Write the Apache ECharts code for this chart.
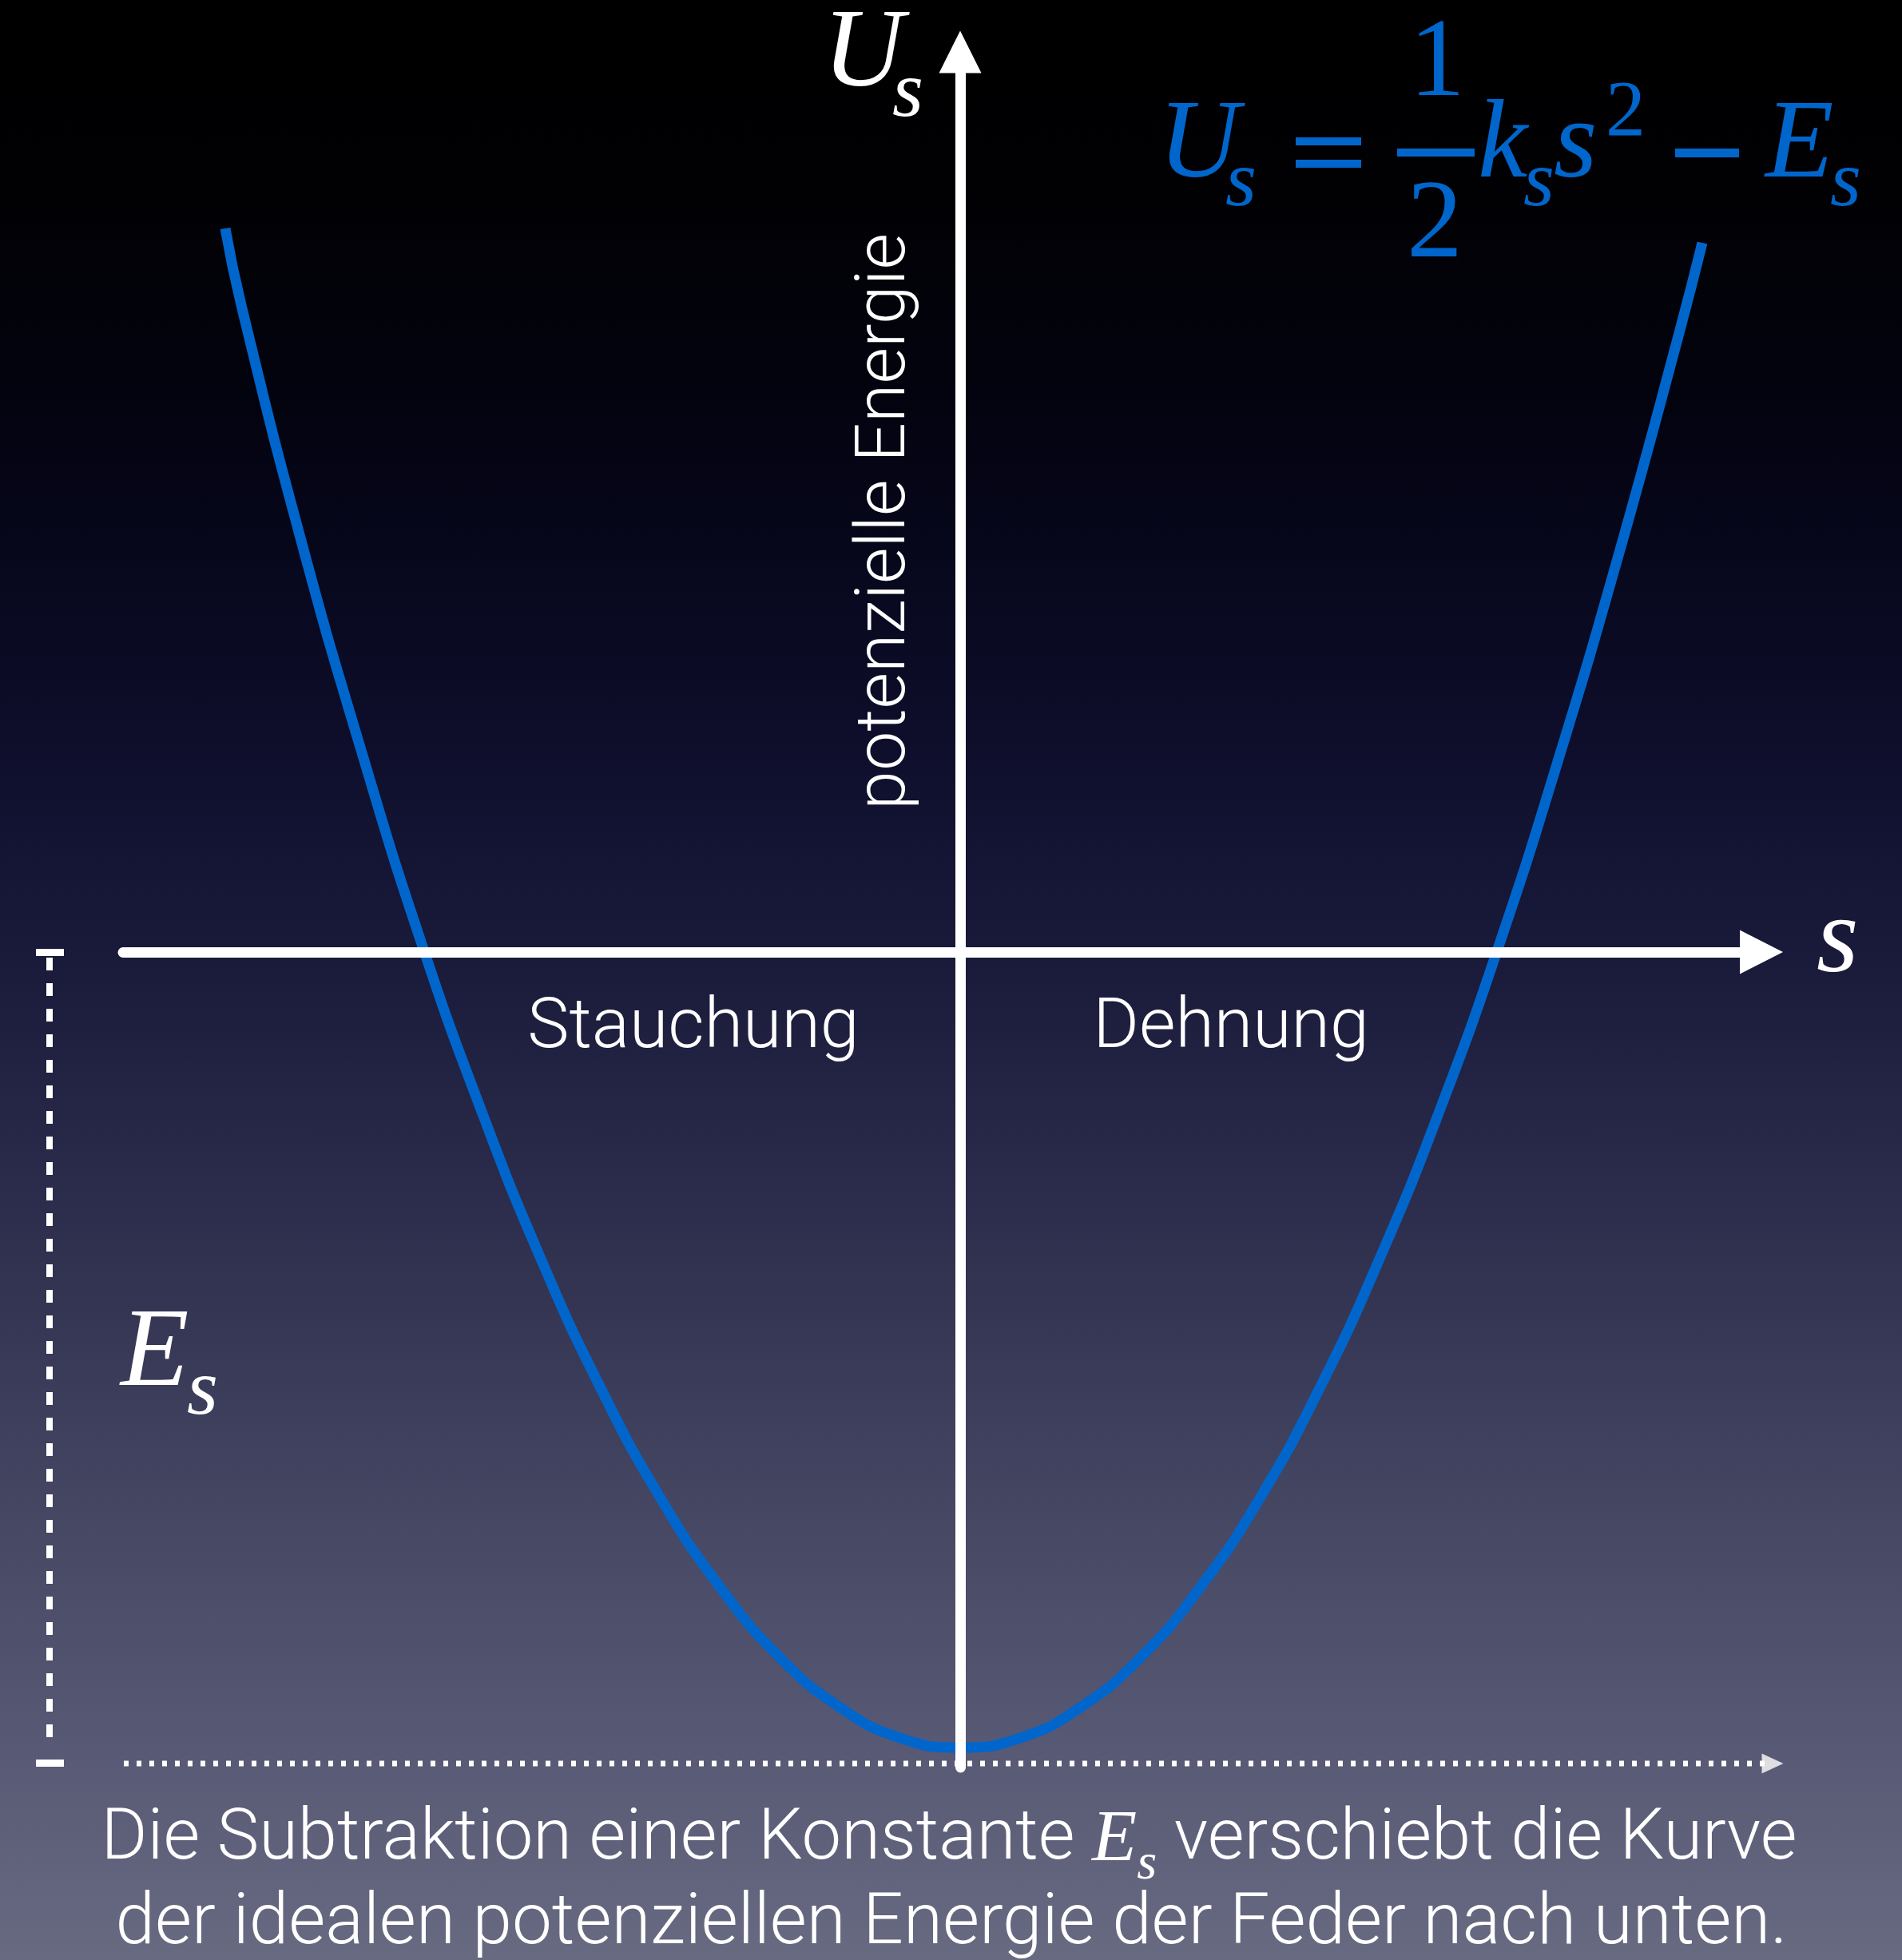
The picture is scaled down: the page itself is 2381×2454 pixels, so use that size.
<!DOCTYPE html>
<html><head><meta charset="utf-8">
<script src="https://cdn.jsdelivr.net/npm/echarts@6/dist/echarts.min.js"></script>
<style>html,body{margin:0;padding:0;background:#000}#c{width:2381px;height:2454px}</style>
</head><body><div id="c"></div>
<script>
// ---- data (s: displacement, U: potential energy; 1 unit = 100 px) ----
const curveS = [-9.20, -9.00, -8.25, -7.50, -6.75, -6.00, -5.25, -4.50, -3.75, -3.00, -2.25, -1.50, -0.75, 0,
                0.75, 1.50, 2.25, 3.00, 3.75, 4.50, 5.25, 6.00, 6.75, 7.50, 8.25, 9.00, 9.29];
const curveU = [9.06, 8.10, 5.15, 2.53, 0.13, -1.97, -3.84, -5.46, -6.84, -7.96, -8.84, -9.46, -9.84, -9.96,
                -9.84, -9.46, -8.84, -7.96, -6.84, -5.46, -3.84, -1.99, 0.10, 2.45, 5.00, 7.75, 8.88];
const sRange = [-10.48, 10.03];
const uRange = [-10.21, 11.27];
const esLevel = -10.16;            // dotted reference line (shifted zero)
const dottedS = [-10.47, 10.17];
// E_s bracket, drawn in the narrow side panel left of the plot (same U scale)
const sideRange = [0, 1.54];
const bracketX = 0.62;
const bracketU = [-0.07, -9.84];
const capX = [0.45, 0.80];
const capU = [-0.005, -10.155];

const WHITE = '#ffffff', BLUE = '#0066cc';
const SANS = 'Roboto', SERIF = '"Liberation Serif", serif';

const chart = echarts.init(document.getElementById('c'), null, {renderer: 'canvas'});

function T(x, y, text, size, opts) {
  return {
    type: 'text', x: x, y: y, z: 50,
    style: Object.assign({
      text: text, fontSize: size, fontFamily: SERIF, fontStyle: 'italic', fill: WHITE,
      align: 'left', verticalAlign: 'middle'
    }, opts || {})
  };
}
function R(x, y, w, h) {
  return {type: 'rect', z: 50, shape: {x: x, y: y, width: w, height: h}, style: {fill: BLUE}};
}
const sans = (extra) => Object.assign({fontFamily: SANS, fontStyle: 'normal', fontWeight: 300, align: 'center'}, extra || {});

const graphics = [
  // U_s axis title
  T(1030, 70, 'U', 140), T(1117, 119, 's', 100),
  // s axis title
  T(2274, 1181, 's', 135),
  // E_s bracket label
  T(151, 1697, 'E', 140), T(234, 1744, 's', 100),
  // formula  U_s = 1/2 k_s s^2 - E_s
  T(1450, 184, 'U', 140, {fill: BLUE}), T(1534, 231, 's', 100, {fill: BLUE}),
  R(1622, 172, 82, 10), R(1622, 200, 82, 10),
  T(1799, 82, '1', 140, {fill: BLUE, fontStyle: 'normal', align: 'center'}),
  R(1749, 186, 97, 10),
  T(1796, 284, '2', 140, {fill: BLUE, fontStyle: 'normal', align: 'center'}),
  T(1850, 184, 'k', 140, {fill: BLUE}), T(1907, 231, 's', 100, {fill: BLUE}),
  T(1945, 184, 's', 140, {fill: BLUE}),
  T(2010, 143, '2', 100, {fill: BLUE, fontStyle: 'normal'}),
  R(2097, 186, 80, 11),
  T(2210, 184, 'E', 140, {fill: BLUE}), T(2291, 231, 's', 100, {fill: BLUE}),
  // region labels
  T(868, 1289, 'Stauchung', 88, sans()),
  T(1541, 1289, 'Dehnung', 88, sans()),
  Object.assign(T(1110, 653, 'potenzielle Energie', 88, sans()), {rotation: Math.PI / 2}),
  // caption
  T(1188, 2305, 'Die Subtraktion einer Konstante {E|E}{sub|s} verschiebt die Kurve', 88.5, sans({
    rich: {
      E: {fontFamily: SERIF, fontStyle: 'italic', fontSize: 92, fill: WHITE},
      sub: {fontFamily: SERIF, fontStyle: 'italic', fontSize: 64, fill: WHITE, padding: [60, 0, 0, 0]}
    }
  })),
  T(1191, 2411, 'der idealen potenziellen Energie der Feder nach unten.', 89, sans())
];

const hiddenAxis = {axisLine: {show: false}, axisTick: {show: false}, axisLabel: {show: false}, splitLine: {show: false}};

const option = {
  animation: false,
  backgroundColor: {
    type: 'linear', x: 0, y: 0, x2: 0, y2: 1,
    colorStops: [
      {offset: 0, color: '#000000'}, {offset: 0.1, color: '#010104'}, {offset: 0.2, color: '#03030f'},
      {offset: 0.3, color: '#08081f'}, {offset: 0.4, color: '#10102f'}, {offset: 0.5, color: '#1b1b3c'},
      {offset: 0.6, color: '#2a2a4a'}, {offset: 0.7, color: '#3a3b58'}, {offset: 0.8, color: '#4a4b67'},
      {offset: 0.9, color: '#595a75'}, {offset: 1, color: '#686a82'}
    ]
  },
  grid: [
    {left: 154, top: 65, width: 2051, height: 2148, containLabel: false},
    {left: 0, top: 65, width: 154, height: 2148, containLabel: false}
  ],
  xAxis: [
    {
      type: 'value', gridIndex: 0, min: sRange[0], max: sRange[1], z: 10,
      axisLine: {show: true, onZero: true, symbol: ['none', 'triangle'], symbolSize: [55, 54],
        lineStyle: {color: WHITE, width: 13}},
      axisTick: {show: false}, axisLabel: {show: false}, splitLine: {show: false}
    },
    Object.assign({type: 'value', gridIndex: 1, min: sideRange[0], max: sideRange[1]}, hiddenAxis)
  ],
  yAxis: [
    {
      type: 'value', gridIndex: 0, min: uRange[0], max: uRange[1], z: 10,
      axisLine: {show: true, onZero: true, symbol: ['none', 'triangle'], symbolSize: [53, 53],
        lineStyle: {color: WHITE, width: 13}},
      axisTick: {show: false}, axisLabel: {show: false}, splitLine: {show: false}
    },
    Object.assign({type: 'value', gridIndex: 1, min: uRange[0], max: uRange[1]}, hiddenAxis)
  ],
  series: [
    {
      name: 'U_s', type: 'line', smooth: true, symbol: 'none', z: 3,
      lineStyle: {color: BLUE, width: 13},
      data: curveS.map((s, i) => [s, curveU[i]])
    },
    {
      name: 'dotted', type: 'line', symbol: 'none', clip: false, z: 2,
      lineStyle: {color: WHITE, width: 7, type: [6, 10]},
      data: [[dottedS[0], esLevel], [dottedS[1], esLevel]]
    },
    {
      name: 'dottedArrow', type: 'scatter', clip: false, z: 2,
      symbol: 'triangle', symbolSize: [25, 27], symbolRotate: -90,
      itemStyle: {color: WHITE},
      data: [[dottedS[1], esLevel]]
    },
    {
      name: 'bracket', type: 'line', xAxisIndex: 1, yAxisIndex: 1, symbol: 'none', z: 2,
      lineStyle: {color: WHITE, width: 8, type: [16, 16]},
      data: [[bracketX, bracketU[0]], [bracketX, bracketU[1]]]
    },
    {
      name: 'capTop', type: 'line', xAxisIndex: 1, yAxisIndex: 1, symbol: 'none', z: 2,
      lineStyle: {color: WHITE, width: 9},
      data: [[capX[0], capU[0]], [capX[1], capU[0]]]
    },
    {
      name: 'capBottom', type: 'line', xAxisIndex: 1, yAxisIndex: 1, symbol: 'none', z: 2,
      lineStyle: {color: WHITE, width: 9},
      data: [[capX[0], capU[1]], [capX[1], capU[1]]]
    }
  ],
  graphic: graphics
};
chart.setOption(option);
</script>
</body></html>
